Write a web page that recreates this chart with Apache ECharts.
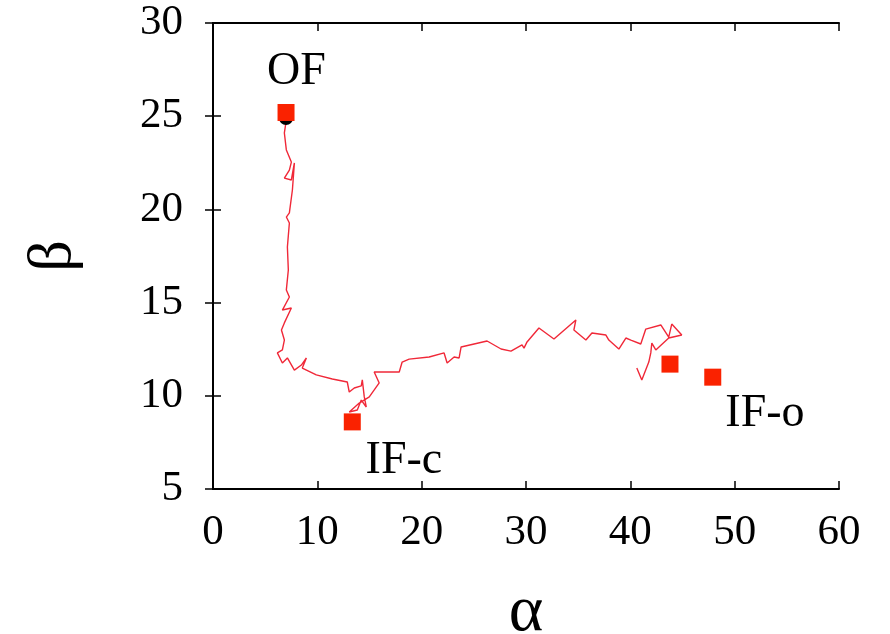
<!DOCTYPE html>
<html>
<head>
<meta charset="utf-8">
<script src="https://cdn.jsdelivr.net/npm/echarts@6/dist/echarts.min.js"></script>
<style>
  html, body { margin: 0; padding: 0; background: #fff; }
  #chart { width: 890px; height: 634px; }
</style>
</head>
<body>
<div id="chart"></div>
<script>
  // trajectory (alpha, beta)
  const pathAlpha = [7.03, 6.84, 7.03, 7.51, 7.32, 6.84, 7.51, 7.80, 7.61, 7.32, 7.03, 7.32, 7.13, 7.22, 7.03, 7.32, 6.65, 7.51,
    6.84, 6.56, 6.84, 6.65, 6.17, 6.65, 7.13, 7.80, 8.47, 8.95, 8.56, 9.90, 11.44, 12.87, 13.06, 13.54, 14.21, 14.31, 14.50,
    14.69, 14.21, 13.83, 13.06, 14.02, 14.98, 15.93, 15.45, 16.89, 17.85, 18.13, 18.80, 20.72, 22.15, 22.44, 23.11, 23.59,
    23.78, 26.27, 27.61, 28.56, 29.62, 29.81, 30.10, 31.24, 32.68, 34.78, 34.59, 35.74, 36.32, 37.66, 37.94, 38.90, 39.57,
    40.05, 41.00, 41.48, 42.92, 43.68, 43.97, 44.93, 43.68, 42.44, 42.06, 41.96, 41.77, 41.10, 40.62]
  const pathBeta = [24.80, 24.10, 23.19, 22.54, 22.11, 21.68, 21.58, 22.49, 21.04, 19.81, 19.59, 19.27, 17.98, 16.75, 15.68, 15.30, 14.60, 14.71,
    13.91, 13.53, 12.99, 12.46, 12.30, 11.76, 12.03, 11.38, 11.65, 12.03, 11.49, 11.12, 10.90, 10.74, 10.20, 10.42, 10.53, 10.85, 9.94,
    9.40, 9.77, 9.24, 9.13, 9.61, 9.94, 10.69, 11.28, 11.28, 11.28, 11.81, 11.97, 12.08, 12.30, 11.76, 12.08, 12.03,
    12.62, 12.94, 12.51, 12.40, 12.73, 12.56, 12.89, 13.64, 13.05, 14.07, 13.53, 12.99, 13.37, 13.26, 12.99, 12.51, 13.10,
    12.99, 12.78, 13.58, 13.80, 13.15, 13.85, 13.26, 13.10, 12.46, 12.83, 12.30, 11.81, 10.85, 11.49]

  // reference states
  const stateAlpha = [7.0, 13.35, 43.8, 47.9]
  const stateBeta = [25.2, 8.6, 11.7, 11.0]

  // start point
  const startAlpha = [7.0]
  const startBeta = [24.9]

  // state labels
  const labelNames = ['OF', 'IF-c', 'IF-o']
  const labelAlpha = [8.0, 18.3, 52.9]
  const labelBeta = [27.4, 6.5, 9.05]

  const xTicks = [0, 10, 20, 30, 40, 50, 60]
  const yTicks = [5, 10, 15, 20, 25, 30]

  const font = 'Liberation Serif'
  const chart = echarts.init(document.getElementById('chart'))

  const tickStyle = { show: true, inside: true, length: 8, lineStyle: { color: '#000', width: 1.5 } }
  const lineStyle = { show: true, lineStyle: { color: '#000', width: 2 } }

  chart.setOption({
    animation: false,
    grid: { left: 213, right: 51, top: 23, bottom: 145, outerBoundsMode: 'none', containLabel: false },
    xAxis: [
      {
        type: 'value', min: xTicks[0], max: xTicks[xTicks.length - 1], interval: 10,
        axisLine: lineStyle, axisTick: tickStyle, splitLine: { show: false },
        axisLabel: { color: '#000', fontFamily: font, fontSize: 43, margin: 22 },
        name: 'α', nameLocation: 'middle', nameGap: 91,
        nameTextStyle: { color: '#000', fontFamily: font, fontSize: 66 },
      },
      {
        type: 'value', position: 'top', min: 0, max: 60, interval: 10,
        axisLine: lineStyle, axisTick: tickStyle, axisLabel: { show: false }, splitLine: { show: false },
      },
    ],
    yAxis: [
      {
        type: 'value', min: yTicks[0], max: yTicks[yTicks.length - 1], interval: 5,
        axisLine: lineStyle, axisTick: tickStyle, splitLine: { show: false },
        axisLabel: { color: '#000', fontFamily: font, fontSize: 43, margin: 30 },
        name: 'β', nameLocation: 'middle', nameGap: 128,
        nameTextStyle: { color: '#000', fontFamily: font, fontSize: 62 },
      },
      {
        type: 'value', position: 'right', min: 5, max: 30, interval: 5,
        axisLine: lineStyle, axisTick: tickStyle, axisLabel: { show: false }, splitLine: { show: false },
      },
    ],
    series: [
      {
        type: 'line',
        data: pathAlpha.map((a, i) => [a, pathBeta[i]]),
        symbol: 'none',
        lineStyle: { color: '#f02838', width: 1.4 },
        z: 2,
      },
      {
        type: 'scatter',
        data: startAlpha.map((a, i) => [a, startBeta[i]]),
        symbol: 'circle', symbolSize: 14,
        itemStyle: { color: '#000', opacity: 1 },
        z: 3,
      },
      {
        type: 'scatter',
        data: stateAlpha.map((a, i) => [a, stateBeta[i]]),
        symbol: 'rect', symbolSize: 17,
        itemStyle: { color: '#fa2200', opacity: 1 },
        z: 4,
      },
      {
        type: 'scatter',
        data: labelNames.map((n, i) => ({ value: [labelAlpha[i], labelBeta[i]], name: n })),
        symbol: 'circle', symbolSize: 1,
        itemStyle: { color: 'rgba(0,0,0,0)', opacity: 1 },
        label: {
          show: true, position: 'inside', formatter: '{b}',
          color: '#000', opacity: 1, fontFamily: font, fontSize: 46,
        },
        z: 5,
      },
    ],
  })
</script>
</body>
</html>
